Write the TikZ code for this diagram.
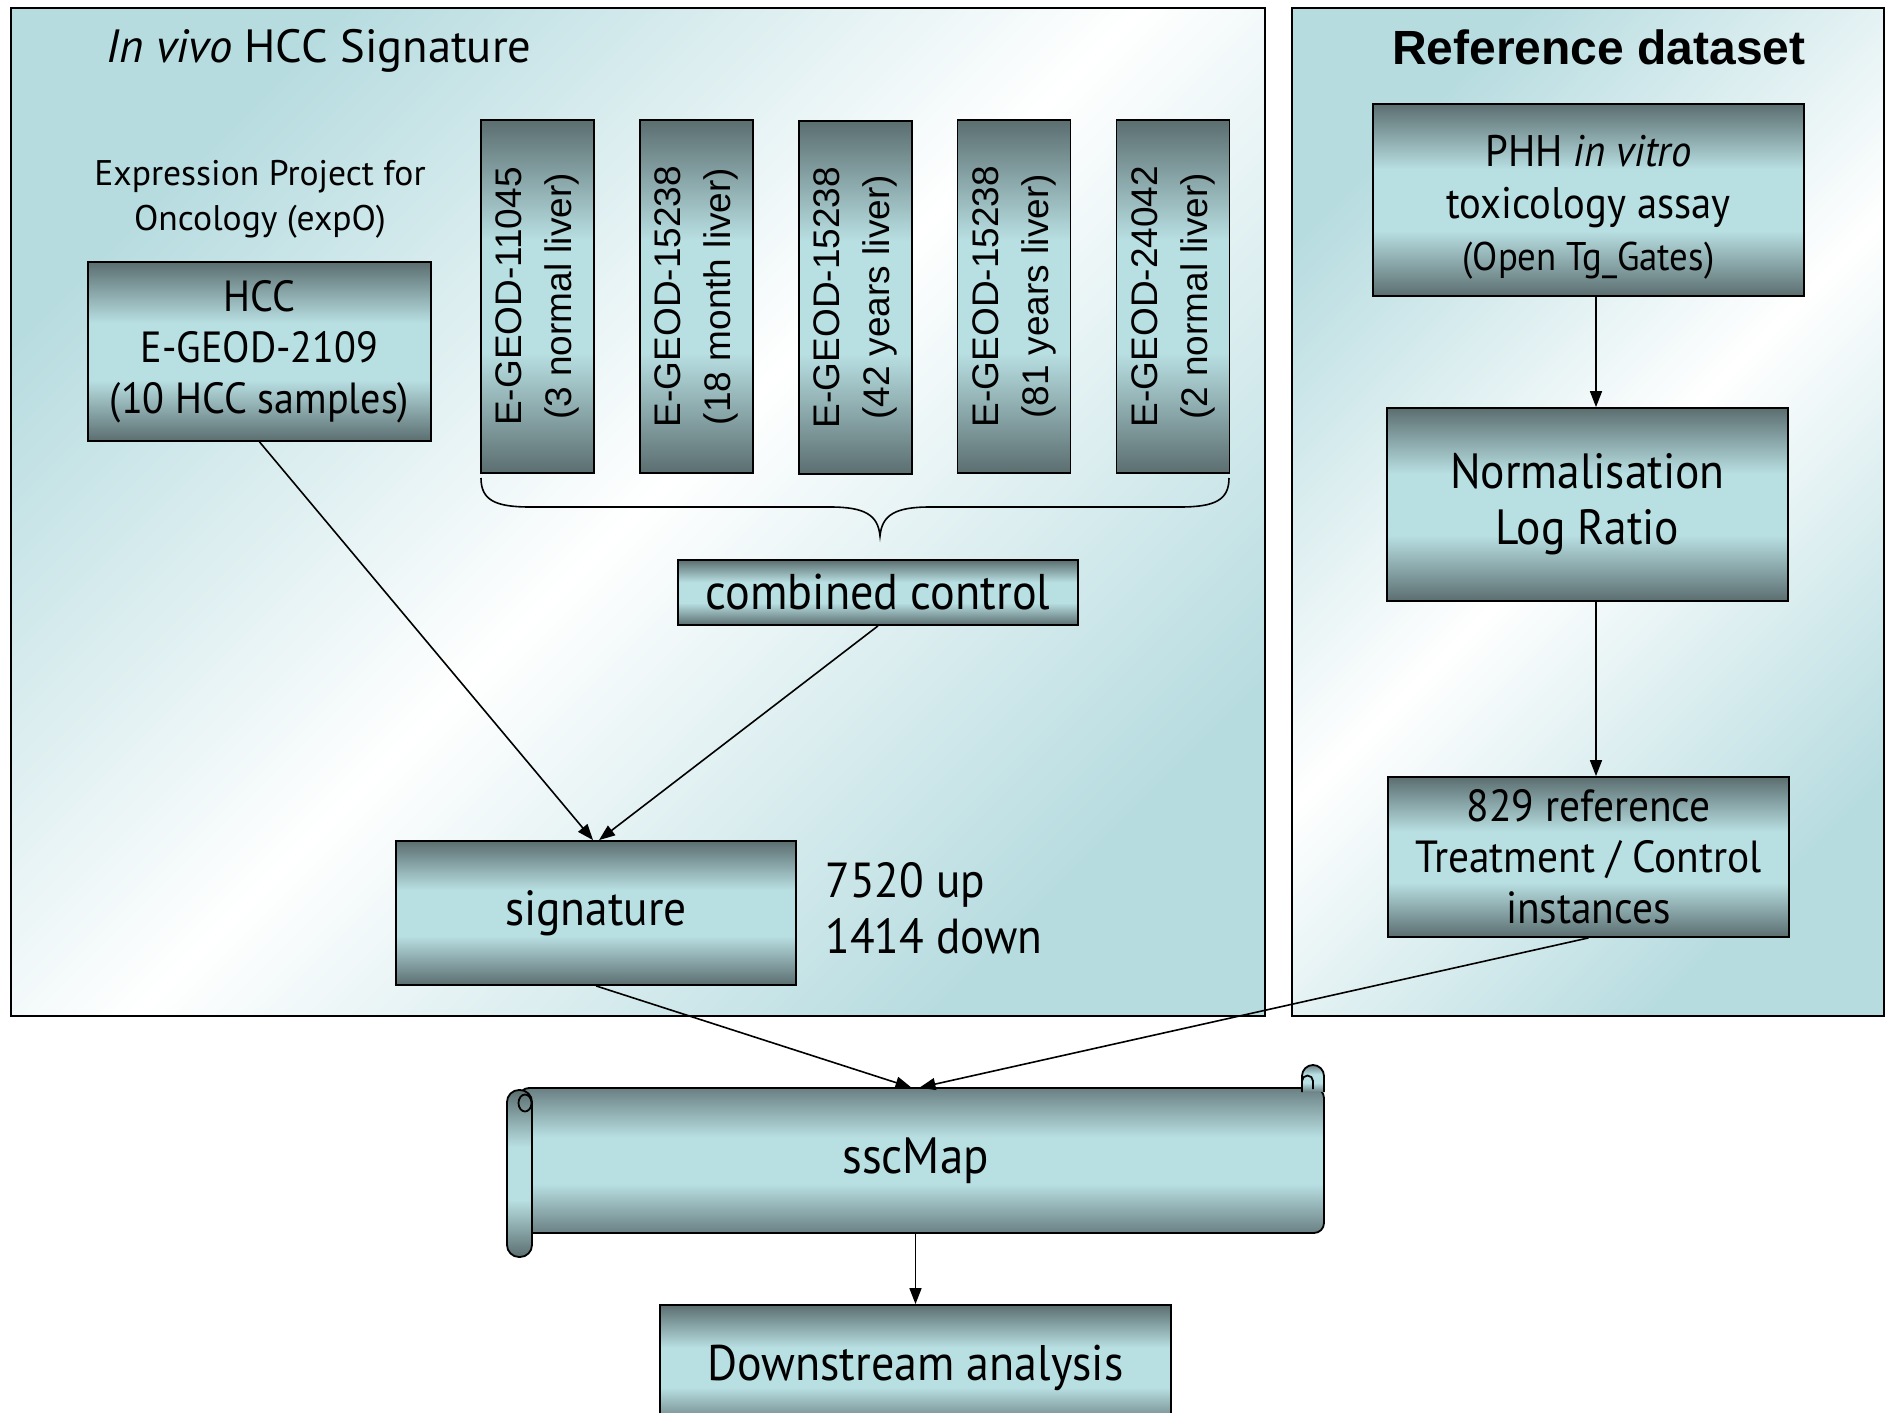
\documentclass[tikz,border=0pt]{standalone}
\usepackage{fontspec}
\setmainfont{PT Sans}
\newfontfamily\bxf[FakeStretch=0.92]{PT Sans}
\newfontfamily\arialf{Liberation Sans}
\usetikzlibrary{arrows.meta}
\definecolor{bxdark}{HTML}{5B6E70}
\definecolor{bxlight}{HTML}{B8DFE2}
\definecolor{scdark}{HTML}{6A8083}
\definecolor{pteal}{HTML}{B7DCE0}
\pgfdeclareverticalshading{boxshade}{100bp}{color(0bp)=(bxdark); color(25bp)=(bxdark); color(42bp)=(bxlight); color(58bp)=(bxlight); color(75bp)=(bxdark); color(100bp)=(bxdark)}
\pgfdeclareverticalshading{scrshade}{100bp}{color(0bp)=(scdark); color(25bp)=(scdark); color(42bp)=(bxlight); color(58bp)=(bxlight); color(75bp)=(scdark); color(100bp)=(scdark)}
\tikzset{
  dsbox/.style={draw=black, line width=0.9pt, shading=boxshade, inner sep=0pt, align=center},
  dsbar/.style={draw=black, line width=0.9pt, shading=boxshade, rotate=90, minimum width=176.5pt, minimum height=56.5pt, inner sep=0pt, align=center, font=\arialf\fontsize{18.5}{25}\selectfont},
  dsarr/.style={line width=0.8pt, -{Triangle[length=8pt,width=6pt]}},
  dspanel/.style={draw=black, line width=0.8pt, top color=pteal, bottom color=pteal, middle color=white, shading angle=45},
  dsscr/.style={draw=black, line width=0.9pt, shading=scrshade},
}
\begin{document}
\begin{tikzpicture}[x=0.5pt,y=-0.5pt]
\useasboundingbox (0,0) rectangle (1886,1413);
\clip (0,0) rectangle (1886,1413);
\fill[white] (0,0) rectangle (1886,1413);
% panels
\draw[dspanel] (11,8) rectangle (1265,1016);
\draw[dspanel] (1292,8) rectangle (1884,1016);
% titles
\node[anchor=base west, inner sep=0pt, font=\fontsize{23.3}{28}\selectfont] (t1) at (106,63) {\textit{In vivo} HCC Signature};
\node[anchor=base, inner sep=0pt, font=\arialf\bfseries\fontsize{24}{28}\selectfont] (t2) at (1599,65) {Reference dataset};
% left panel
\node[anchor=base, align=center, inner sep=0pt, font=\fontsize{17.8}{22.5}\selectfont] (expo) at (260,230) {Expression Project for\\Oncology (expO)};
\node[dsbox, minimum width=171.5pt, minimum height=89.5pt, font=\bxf\fontsize{21.8}{25.5}\selectfont] (hcc) at (259.5,351.5) {HCC\\E-GEOD-2109\\(10 HCC samples)};
\node[dsbar] (b1) at (537.5,296.5) {E-GEOD-11045\\(3 normal liver)};
\node[dsbar] (b2) at (696.5,296.5) {E-GEOD-15238\\(18 month liver)};
\node[dsbar] (b3) at (855.5,297.5) {E-GEOD-15238\\(42 years liver)};
\node[dsbar] (b4) at (1014,296.5) {E-GEOD-15238\\(81 years liver)};
\node[dsbar] (b5) at (1173,296.5) {E-GEOD-24042\\(2 normal liver)};
\draw[line width=0.8pt] (481,478) .. controls (481,500) and (495,507) .. (530,507) -- (830,507) .. controls (865,507) and (878,515) .. (880,536) .. controls (882,515) and (895,507) .. (930,507) -- (1180,507) .. controls (1215,507) and (1229,500) .. (1229,478);
\node[dsbox, minimum width=200pt, minimum height=32.5pt, font=\bxf\fontsize{25.1}{28}\selectfont] (cc) at (878,592.5) {combined control};
\node[dsbox, minimum width=200pt, minimum height=72pt, font=\bxf\fontsize{24.7}{28}\selectfont] (sig) at (596,913) {signature};
\node[anchor=base west, align=left, inner sep=0pt, font=\bxf\fontsize{24.6}{28}\selectfont] (counts) at (825,953) {7520 up\\1414 down};
% right panel
\node[dsbox, minimum width=215.5pt, minimum height=96pt, font=\bxf\fontsize{22.1}{26}\selectfont] (phh) at (1588.5,200) {\rule{0pt}{23pt}PHH \textit{in vitro}\\toxicology assay\\{\fontsize{20}{24.5}\selectfont (Open Tg\_Gates)}};
\node[dsbox, minimum width=200.5pt, minimum height=96.5pt, font=\bxf\fontsize{24.75}{28}\selectfont] (norm) at (1587.5,504.5) {Normalisation\\Log Ratio};
\node[dsbox, minimum width=200.5pt, minimum height=80pt, font=\bxf\fontsize{22.5}{25.5}\selectfont] (ref) at (1588.5,857) {829 reference\\Treatment / Control\\instances};
% scroll
\draw[dsscr, rounded corners=5pt] (519,1088) rectangle (1324,1233);
\draw[dsscr, rounded corners=5.5pt] (1302,1092) -- (1302,1065) -- (1324,1065) -- (1324,1092);
\draw[line width=0.9pt] (1313,1089) -- (1313,1081) arc[start angle=0, end angle=-180, radius=5.5];
\draw[draw=black, line width=0.9pt, shading=boxshade, rounded corners=6pt] (507,1090) rectangle (532,1257);
\draw[line width=0.9pt] (525,1103) ellipse[x radius=6.5, y radius=8.5];
\node[minimum width=408.5pt, minimum height=72.5pt, inner sep=0pt, font=\bxf\fontsize{25.5}{28}\selectfont] (scroll) at (915.5,1160.5) {sscMap};
\node[dsbox, minimum width=255.5pt, minimum height=62.5pt, font=\bxf\fontsize{25}{28}\selectfont] (dn) at (915.5,1367.5) {Downstream analysis};
% connectors
\coordinate (ax) at (1596,0);
\draw[dsarr] (hcc.south) -- ([xshift=-1.5pt]sig.north);
\draw[dsarr] (cc.south) -- ([xshift=1.5pt]sig.north);
\draw[dsarr] (phh.south -| ax) -- (norm.north -| ax);
\draw[dsarr] (norm.south -| ax) -- (ref.north -| ax);
\draw[dsarr] (sig.south) -- ([xshift=-2pt]scroll.north);
\draw[dsarr] (ref.south) -- ([xshift=2pt]scroll.north);
\draw[dsarr] (scroll.south) -- (dn.north);
\end{tikzpicture}
\end{document}
